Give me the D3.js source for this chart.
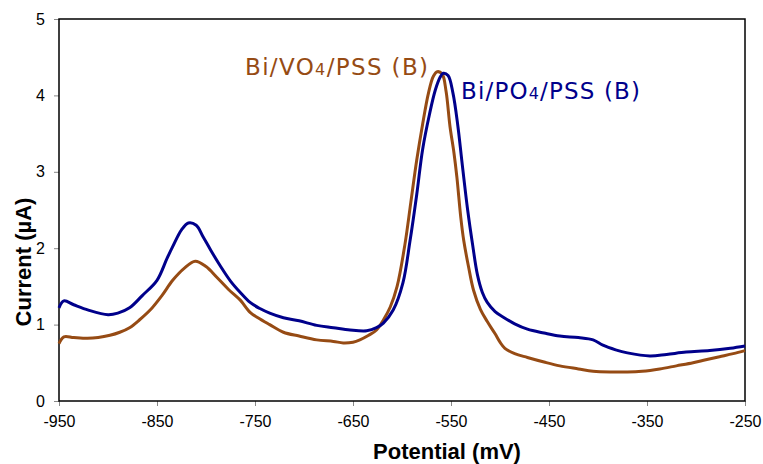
<!DOCTYPE html>
<html>
<head>
<meta charset="utf-8">
<script src="https://cdn.jsdelivr.net/npm/d3@7/dist/d3.min.js"></script>
<style>
  html, body { margin: 0; padding: 0; background: #fff; }
  #plot { width: 763px; height: 464px; }
</style>
</head>
<body>
<div id="plot"></div>
<script>
// Stripping voltammograms, potential (mV) vs current (µA)
const xTicks = [-950, -850, -750, -650, -550, -450, -350, -250];
const yTicks = [0, 1, 2, 3, 4, 5];

// Bi/PO4/PSS (B) — blue trace
const poPotential = [-950, -945, -935, -920, -900, -890, -878, -865, -850, -840, -834, -825, -818, -810, -803, -795, -786, -775, -765, -755, -745, -735, -721, -705, -687, -670, -653, -636, -626, -619, -609, -599, -592, -585, -579, -572, -566, -561, -558, -553, -548, -543, -539, -533, -528, -523, -518, -513, -505, -497, -485, -472, -455, -439, -420, -405, -395, -382, -370, -347, -330, -310, -286, -265, -250];
const poCurrent = [1.22, 1.31, 1.26, 1.19, 1.13, 1.15, 1.22, 1.38, 1.58, 1.86, 2.02, 2.24, 2.33, 2.30, 2.15, 1.97, 1.78, 1.57, 1.42, 1.29, 1.21, 1.15, 1.09, 1.05, 0.99, 0.96, 0.93, 0.92, 0.96, 1.02, 1.19, 1.55, 2.08, 2.70, 3.29, 3.75, 4.07, 4.24, 4.29, 4.26, 4.03, 3.60, 3.15, 2.50, 2.05, 1.65, 1.42, 1.29, 1.17, 1.10, 1.01, 0.94, 0.89, 0.85, 0.83, 0.80, 0.73, 0.67, 0.63, 0.59, 0.61, 0.64, 0.66, 0.69, 0.72];

// Bi/VO4/PSS (B) — brown trace
const voPotential = [-950, -945, -935, -921, -910, -898, -888, -878, -868, -857, -845, -834, -822, -811, -800, -789, -777, -765, -755, -747, -735, -721, -705, -687, -670, -660, -650, -643, -634, -626, -619, -612, -605, -597, -591, -585, -579, -573, -568, -564, -559, -555, -551, -547, -544, -540, -537, -532, -527, -520, -513, -505, -500, -495, -485, -472, -455, -439, -420, -405, -385, -370, -355, -337, -320, -303, -290, -276, -262, -250];
const voCurrent = [0.75, 0.84, 0.83, 0.82, 0.83, 0.86, 0.90, 0.96, 1.06, 1.19, 1.38, 1.58, 1.74, 1.83, 1.76, 1.62, 1.46, 1.32, 1.16, 1.09, 1.00, 0.90, 0.85, 0.80, 0.78, 0.76, 0.77, 0.80, 0.86, 0.93, 1.06, 1.23, 1.50, 2.05, 2.60, 3.15, 3.62, 4.03, 4.25, 4.31, 4.28, 4.05, 3.59, 3.25, 2.93, 2.40, 2.10, 1.75, 1.45, 1.20, 1.04, 0.88, 0.77, 0.69, 0.62, 0.57, 0.51, 0.46, 0.42, 0.39, 0.38, 0.38, 0.39, 0.42, 0.46, 0.50, 0.54, 0.58, 0.62, 0.66];

const blue = '#00008b';
const brown = '#964b14';

const W = 763, H = 464;
const margin = { top: 19, right: 18, bottom: 63, left: 59 };
const width = W - margin.left - margin.right;
const height = H - margin.top - margin.bottom;

const svg = d3.select('#plot').append('svg').attr('width', W).attr('height', H);
const g = svg.append('g').attr('transform', `translate(${margin.left},${margin.top})`);

const x = d3.scaleLinear().domain([-950, -250]).range([0, width]);
const y = d3.scaleLinear().domain([0, 5]).range([height, 0]);

// axes (plain hyphen minus, like the original)
const xAxis = g.append('g').attr('transform', `translate(0,${height})`)
  .call(d3.axisBottom(x).tickValues(xTicks).tickSize(5).tickPadding(10).tickFormat((d) => String(d)));
const yAxis = g.append('g')
  .call(d3.axisLeft(y).tickValues(yTicks).tickSize(5).tickPadding(9).tickFormat((d) => String(d)));

[xAxis, yAxis].forEach((a) => {
  a.select('.domain').remove();
  a.selectAll('line').attr('stroke', '#888').attr('stroke-width', 1);
  a.selectAll('text').attr('fill', '#000').style('font-family', 'Liberation Sans, Arial, sans-serif').style('font-size', '16px');
});

// frame
g.append('rect').attr('x', 0).attr('y', 0).attr('width', width).attr('height', height)
  .attr('fill', 'none').attr('stroke', '#000').attr('stroke-width', 1.5);

const line = d3.line().x((d) => x(d[0])).y((d) => y(d[1])).curve(d3.curveCatmullRom.alpha(0.5));

const series = [
  { pts: d3.zip(voPotential, voCurrent), color: brown },
  { pts: d3.zip(poPotential, poCurrent), color: blue },
];
series.forEach((s) => {
  g.append('path').datum(s.pts).attr('d', line)
    .attr('fill', 'none').attr('stroke', s.color).attr('stroke-width', 3)
    .attr('stroke-linejoin', 'round');
});

// series labels
function seriesLabel(px, py, color, mid, len) {
  const t = svg.append('text').attr('x', px).attr('y', py).attr('fill', color)
    .attr('textLength', len).attr('lengthAdjust', 'spacing')
    .style('font-family', 'DejaVu Sans, Verdana, sans-serif').style('font-size', '23px');
  t.append('tspan').text('Bi/' + mid);
  t.append('tspan').style('font-size', '16px').text('4');
  t.append('tspan').text('/PSS (B)');
}
seriesLabel(245, 75, brown, 'VO', 183);
seriesLabel(461, 99, blue, 'PO', 179);

// axis titles
svg.append('text').attr('x', 447).attr('y', 459).attr('text-anchor', 'middle')
  .style('font-family', 'Liberation Sans, Arial, sans-serif').style('font-size', '22px').style('font-weight', 'bold')
  .text('Potential (mV)');
svg.append('text').attr('transform', 'translate(31,262) rotate(-90)').attr('text-anchor', 'middle')
  .style('font-family', 'Liberation Sans, Arial, sans-serif').style('font-size', '22px').style('font-weight', 'bold')
  .text('Current (µA)');
</script>
</body>
</html>
